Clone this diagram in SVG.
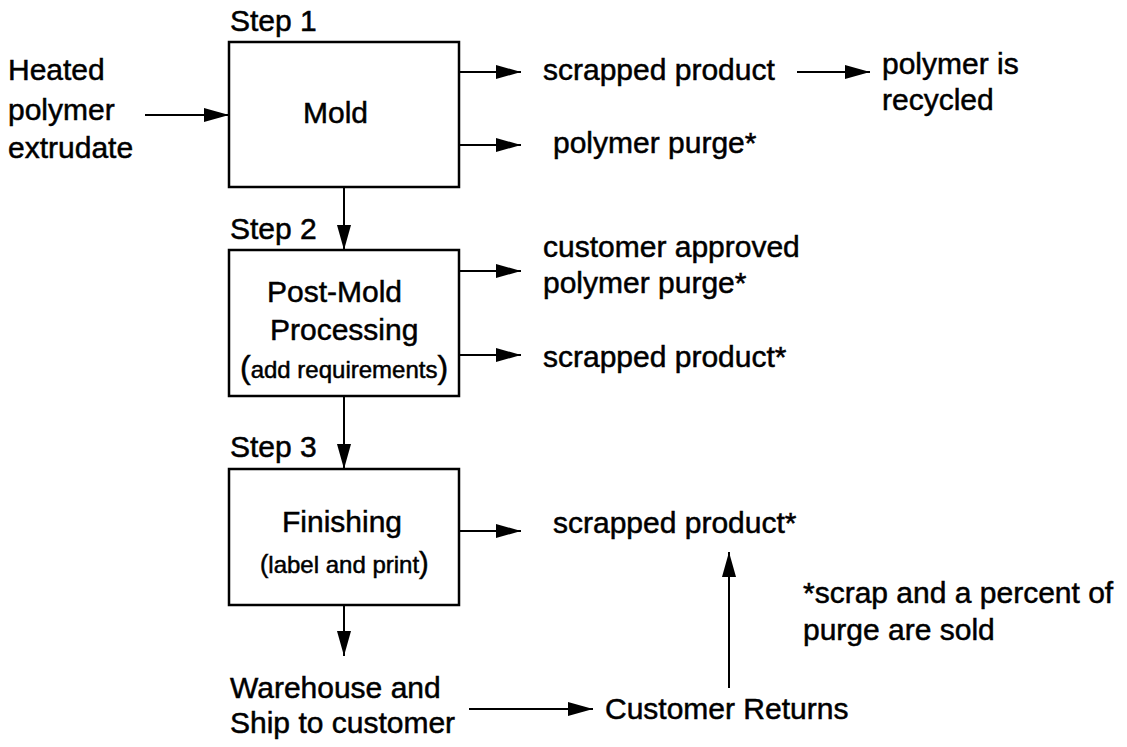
<svg xmlns="http://www.w3.org/2000/svg" width="1127" height="747" viewBox="0 0 1127 747">
  <defs>
    <style>
      text { font-family: "Liberation Sans", Arial, sans-serif; font-size: 30px; fill: #000; stroke: #000; stroke-width: 0.5; }
      .box { fill: #fff; stroke: #000; stroke-width: 2.5; }
      .wire { fill: none; stroke: #000; stroke-width: 2; marker-end: url(#head); }
      .small { font-size: 24px; }
    </style>
    <marker id="head" markerUnits="userSpaceOnUse" markerWidth="25" markerHeight="14" refX="25" refY="7" orient="auto">
      <path d="M0,0 L25,7 L0,14 z" fill="#000"/>
    </marker>
  </defs>
  <rect width="1127" height="747" fill="#fff"/>

  <!-- process flow connectors -->
  <g id="connectors">
    <line class="wire" x1="145" y1="115" x2="229" y2="115"/>
    <line class="wire" x1="459" y1="72" x2="521" y2="72"/>
    <line class="wire" x1="459" y1="145" x2="521" y2="145"/>
    <line class="wire" x1="797" y1="72" x2="870" y2="72"/>
    <line class="wire" x1="344" y1="187" x2="344" y2="250"/>
    <line class="wire" x1="459" y1="271" x2="521" y2="271"/>
    <line class="wire" x1="459" y1="355" x2="521" y2="355"/>
    <line class="wire" x1="344" y1="396" x2="344" y2="469"/>
    <line class="wire" x1="459" y1="531" x2="521" y2="531"/>
    <line class="wire" x1="344" y1="605" x2="344" y2="656"/>
    <line class="wire" x1="469" y1="709" x2="593" y2="709"/>
    <line class="wire" x1="729" y1="688" x2="729" y2="552"/>
  </g>

  <!-- input -->
  <g id="input">
    <text x="8" y="80">Heated</text>
    <text x="8" y="120">polymer</text>
    <text x="8" y="158">extrudate</text>
  </g>

  <!-- step 1 -->
  <g id="step1">
    <text x="230" y="31">Step 1</text>
    <rect class="box" x="229" y="42" width="230" height="145"/>
    <text x="303" y="123">Mold</text>
  </g>
  <g id="scrap1">
    <text x="543" y="80">scrapped product</text>
  </g>
  <g id="recycle">
    <text x="882" y="74">polymer is</text>
    <text x="882" y="110">recycled</text>
  </g>
  <g id="purge1">
    <text x="553" y="153">polymer purge*</text>
  </g>

  <!-- step 2 -->
  <g id="step2">
    <text x="230" y="239">Step 2</text>
    <rect class="box" x="229" y="250" width="230" height="146"/>
    <text x="267" y="302">Post-Mold</text>
    <text x="270" y="340">Processing</text>
    <text x="240" y="378"><tspan font-size="32">(</tspan><tspan class="small">add requirements</tspan><tspan font-size="32">)</tspan></text>
  </g>
  <g id="purge2">
    <text x="543" y="257">customer approved</text>
    <text x="543" y="293">polymer purge*</text>
  </g>
  <g id="scrap2">
    <text x="543" y="367">scrapped product*</text>
  </g>

  <!-- step 3 -->
  <g id="step3">
    <text x="230" y="457">Step 3</text>
    <rect class="box" x="229" y="469" width="230" height="136"/>
    <text x="282" y="532">Finishing</text>
    <text x="260" y="573"><tspan font-size="25">(</tspan><tspan class="small">label and print</tspan><tspan font-size="29">)</tspan></text>
  </g>
  <g id="scrap3">
    <text x="553" y="533">scrapped product*</text>
  </g>

  <!-- shipping and returns -->
  <g id="warehouse">
    <text x="230" y="698">Warehouse and</text>
    <text x="230" y="733">Ship to customer</text>
  </g>
  <g id="returns">
    <text x="605" y="719">Customer Returns</text>
  </g>

  <!-- footnote -->
  <g id="note">
    <text x="803" y="603" font-size="31">*scrap and a percent of</text>
    <text x="803" y="640" font-size="31">purge are sold</text>
  </g>
</svg>
